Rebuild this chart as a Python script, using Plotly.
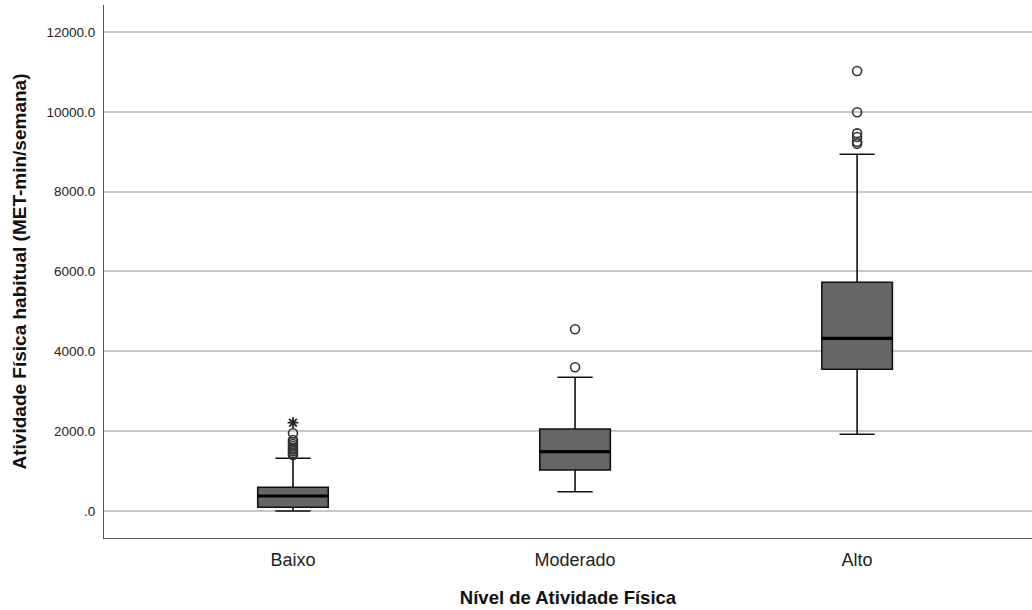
import plotly.graph_objects as go

categories = ["Baixo", "Moderado", "Alto"]
q1 = [95, 1027, 3550]
median = [376, 1486, 4326]
q3 = [594, 2054, 5729]
lower_whisker = [0, 483, 1921]
upper_whisker = [1320, 3349, 8935]

outliers_baixo = [1403, 1450, 1500, 1540, 1580, 1630, 1680, 1730, 1779, 1946]
extremes_baixo = [2212]
outliers_moderado = [3600, 4552]
outliers_alto = [9200, 9251, 9370, 9460, 9988, 11022]

y_ticks = [0, 2000, 4000, 6000, 8000, 10000, 12000]
y_tick_labels = [".0", "2000.0", "4000.0", "6000.0", "8000.0", "10000.0", "12000.0"]

BOX_W = 0.25
FONT = "Liberation Sans, Arial, sans-serif"

fig = go.Figure()
xs = list(range(len(categories)))
fig.add_trace(go.Box(
    x=xs, q1=q1, median=median, q3=q3,
    lowerfence=lower_whisker, upperfence=upper_whisker,
    width=BOX_W, whiskerwidth=0.5,
    fillcolor="#666666", line=dict(color="#111111", width=1.6),
    boxpoints=False, showlegend=False, hoverinfo="skip",
))
# thick medians
for i, m in enumerate(median):
    fig.add_trace(go.Scatter(
        x=[i - BOX_W / 2, i + BOX_W / 2], y=[m, m], mode="lines",
        line=dict(color="black", width=3.2), showlegend=False, hoverinfo="skip"))

outlier_groups = [outliers_baixo, outliers_moderado, outliers_alto]
for i, grp in enumerate(outlier_groups):
    fig.add_trace(go.Scatter(
        x=[i] * len(grp), y=grp, mode="markers",
        marker=dict(symbol="circle-open", size=9, color="#333333", line=dict(width=1.6)),
        showlegend=False, hoverinfo="skip"))
fig.add_trace(go.Scatter(
    x=[0] * len(extremes_baixo), y=extremes_baixo, mode="markers",
    marker=dict(symbol="asterisk-open", size=9, color="#222222", line=dict(width=1.8, color="#222222")),
    showlegend=False, hoverinfo="skip"))

fig.update_layout(
    width=1032, height=610,
    margin=dict(l=104, r=0, t=5, b=72),
    paper_bgcolor="white", plot_bgcolor="white",
    font=dict(family=FONT, color="black"),
)
fig.update_xaxes(
    range=[-0.67, 2.62], tickvals=xs, ticktext=categories,
    tickfont=dict(size=18, color="#222222"),
    showgrid=False, zeroline=False,
    showline=True, linecolor="#555555", linewidth=1.2,
    ticks="outside", ticklen=5, tickcolor="rgba(0,0,0,0)",
    title=dict(text="<b>Nível de Atividade Física</b>", font=dict(size=18.5, color="#111111"), standoff=22),
)
fig.update_yaxes(
    range=[-676, 12675], tickvals=y_ticks, ticktext=y_tick_labels,
    tickfont=dict(size=13.5, color="#222222"),
    showgrid=True, gridcolor="#c8c8c8", gridwidth=1.5, zeroline=False,
    showline=True, linecolor="#555555", linewidth=1.2,
    ticks="outside", ticklen=5, tickcolor="rgba(0,0,0,0)",
    title=dict(text="<b>Atividade Física habitual (MET-min/semana)</b>", font=dict(size=19, color="#111111"), standoff=14),
)

fig.write_html("out.html")
